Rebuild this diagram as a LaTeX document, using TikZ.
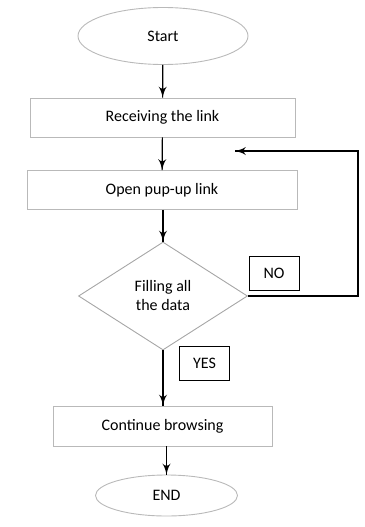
\documentclass[tikz,border=0pt]{standalone}
\usepackage{fontspec}
\setmainfont{Carlito}
\usetikzlibrary{arrows}
\usetikzlibrary{decorations.markings}
\usetikzlibrary{shapes.geometric}
\tikzset{->/.style = {decoration={markings,
                                  mark=at position 1 with {\arrow[scale=1.7]{latex'}}},
                      postaction={decorate}}}
\tikzset{step box/.style = {draw=gray!55, line width=0.9pt, minimum height=39, inner sep=0}}
\tikzset{terminal/.style = {ellipse, draw=gray!55, line width=0.9pt, inner sep=0}}
\tikzset{answer/.style = {draw, line width=0.9pt, minimum width=50, minimum height=34, inner sep=0}}

\begin{document}
\begin{tikzpicture}[x=1pt, y=-1pt, font=\fontsize{16}{19}\selectfont, line width=1.2pt]
    \useasboundingbox (0, 0) rectangle (364, 527);
    \node [terminal, minimum width=170, minimum height=57] (start) at (163, 36) {Start};
    \node [step box, minimum width=265] (recv) at (162.5, 117.5) {Receiving the link};
    \node [step box, minimum width=270] (open) at (162, 190) {Open pup-up link};
    \node [diamond, draw=gray!70, line width=0.9pt, inner sep=0, minimum width=169,
           minimum height=108, align=center] (fill) at (163, 296) {Filling all\\the data};
    \node [answer] (no) at (274, 273) {NO};
    \node [answer] (yes) at (204.5, 363.5) {YES};
    \node [step box, minimum width=219, minimum height=40] (cont) at (162.5, 426) {Continue browsing};
    \node [terminal, minimum width=142, minimum height=41] (end) at (166.5, 495.5) {END};
    \coordinate (back) at (235, 151);
    \draw [->] (start) -- (recv);
    \draw [->] (recv) -- (open);
    \draw [->] (open.south -| fill.north) -- (fill.north);
    \draw [->] (fill.south) -- (cont.north -| fill.south);
    \draw [->] (cont.south -| end.north) -- (end.north);
    \draw [->] (fill.east) -- ++(110, 0) |- (back);
  \end{tikzpicture}
\end{document}
